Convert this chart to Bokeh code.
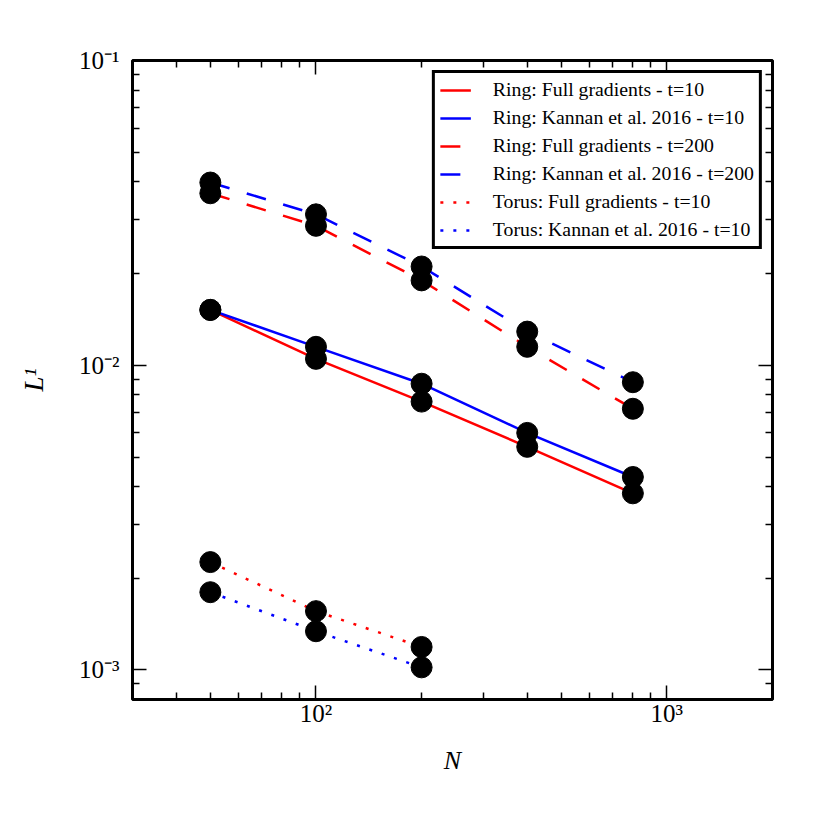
from bokeh.plotting import figure
from bokeh.models import (LogAxis, FixedTicker, CustomJSTickFormatter, Range1d,
                          Legend, LegendItem)
from bokeh.embed import file_html
from bokeh.resources import INLINE

# ---- data ----
N = [50, 100, 200, 400, 800]
N_torus = [50, 100, 200]
ring_full_t10 = [0.0152, 0.0105, 0.0076, 0.0054, 0.0038]
ring_kannan_t10 = [0.0152, 0.0115, 0.0087, 0.0060, 0.0043]
ring_full_t200 = [0.0367, 0.0287, 0.0190, 0.0115, 0.0072]
ring_kannan_t200 = [0.0398, 0.0313, 0.0211, 0.0129, 0.0088]
torus_full_t10 = [0.00226, 0.00156, 0.00119]
torus_kannan_t10 = [0.00180, 0.00134, 0.00102]

labels = [
    "Ring: Full gradients - t=10",
    "Ring: Kannan et al. 2016 - t=10",
    "Ring: Full gradients - t=200",
    "Ring: Kannan et al. 2016 - t=200",
    "Torus: Full gradients - t=10",
    "Torus: Kannan et al. 2016 - t=10",
]

x_major = [100, 1000]
y_major = [0.001, 0.01, 0.1]
x_minor = [m * d for d in [10, 100, 1000] for m in range(2, 10) if 30 <= m * d <= 2000]
y_minor = [round(m * d, 6) for d in [0.0001, 0.001, 0.01] for m in range(2, 10)
           if 8e-4 <= m * d <= 0.1]

FONT = "Liberation Serif"
RED = "#ff0000"
BLUE = "#0000ff"

p = figure(frame_width=640, frame_height=639,
           x_axis_type="log", y_axis_type="log",
           x_range=Range1d(30, 2000), y_range=Range1d(8e-4, 0.1001),
           output_backend="svg", toolbar_location=None,
           min_border_left=132, min_border_right=40,
           min_border_top=60, min_border_bottom=111)
p.background_fill_color = "white"
p.border_fill_color = "white"
p.grid.visible = False
p.outline_line_color = "black"
p.outline_line_width = 3

fmt_code = """
const e = Math.round(Math.log(tick) / Math.LN10);
const m = {"-": "\\u207b", "0": "\\u2070", "1": "\\u00b9", "2": "\\u00b2", "3": "\\u00b3",
           "4": "\\u2074", "5": "\\u2075", "6": "\\u2076", "7": "\\u2077", "8": "\\u2078", "9": "\\u2079"};
return "10" + String(e).split("").map(c => m[c]).join("");
"""


def tick_style(ax):
    ax.axis_line_color = None
    ax.major_tick_in = 14
    ax.major_tick_out = 0
    ax.minor_tick_in = 7
    ax.minor_tick_out = 0
    ax.major_tick_line_width = 1.5
    ax.minor_tick_line_width = 1.5
    ax.major_tick_line_color = "black"
    ax.minor_tick_line_color = "black"


def main_axis(ax, major, minor, label, label_size):
    tick_style(ax)
    ax.ticker = FixedTicker(ticks=major, minor_ticks=minor)
    ax.formatter = CustomJSTickFormatter(code=fmt_code)
    ax.major_label_text_font = FONT
    ax.major_label_text_font_size = "25px"
    ax.major_label_text_color = "black"
    ax.axis_label = label
    ax.axis_label_text_font = FONT
    ax.axis_label_text_font_size = label_size
    ax.axis_label_text_font_style = "italic"
    ax.axis_label_text_color = "black"


def mirror_axes(major, minor, side):
    # major ticks drawn as long "minor" ticks, minor ticks as short ones: no labels
    for ticks, length in [(major, 14), (minor, 7)]:
        ax = LogAxis()
        tick_style(ax)
        ax.ticker = FixedTicker(ticks=[], minor_ticks=ticks)
        ax.minor_tick_in = length
        p.add_layout(ax, side)


xa = p.xaxis[0]
ya = p.yaxis[0]
main_axis(xa, x_major, x_minor, "N", "26px")
main_axis(ya, y_major, y_minor, "L\u00b9", "27px")
xa.major_label_standoff = 0
xa.axis_label_standoff = 16
ya.major_label_standoff = 13
ya.axis_label_standoff = 27

mirror_axes(x_major, x_minor, "above")
mirror_axes(y_major, y_minor, "right")

r1 = p.line(N, ring_full_t10, line_color=RED, line_width=2.5)
r2 = p.line(N, ring_kannan_t10, line_color=BLUE, line_width=2.5)
r3 = p.line(N, ring_full_t200, line_color=RED, line_width=2.5, line_dash="20 18")
r4 = p.line(N, ring_kannan_t200, line_color=BLUE, line_width=2.5, line_dash="20 18")
r5 = p.line(N_torus, torus_full_t10, line_color=RED, line_width=2.5, line_dash="3 10")
r6 = p.line(N_torus, torus_kannan_t10, line_color=BLUE, line_width=2.5, line_dash="3 10")

for ys in [ring_full_t10, ring_kannan_t10, ring_full_t200, ring_kannan_t200]:
    p.scatter(N, ys, size=21, color="black", marker="circle")
for ys in [torus_full_t10, torus_kannan_t10]:
    p.scatter(N_torus, ys, size=21, color="black", marker="circle")

legend = Legend(items=[LegendItem(label=l, renderers=[r])
                       for l, r in zip(labels, [r1, r2, r3, r4, r5, r6])],
                location="top_right")
legend.border_line_color = "black"
legend.border_line_alpha = 1
legend.border_line_width = 3
legend.background_fill_color = "white"
legend.background_fill_alpha = 1
legend.label_text_font = FONT
legend.label_text_font_size = "19.8px"
legend.label_text_color = "black"
legend.glyph_width = 31
legend.glyph_height = 22
legend.label_height = 22
legend.label_standoff = 22
legend.spacing = 5
legend.padding = 5
legend.margin = 10
p.add_layout(legend)

open("out.html", "w").write(file_html(p, INLINE))
